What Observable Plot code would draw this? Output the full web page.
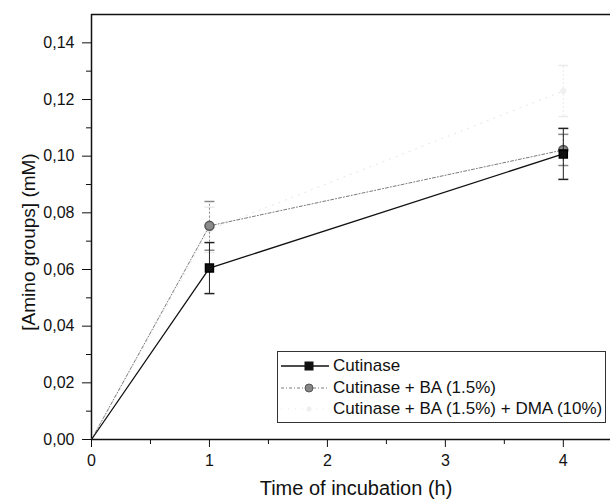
<!DOCTYPE html>
<html><head><meta charset="utf-8">
<script src="https://cdn.jsdelivr.net/npm/d3@7"></script>
<script src="https://cdn.jsdelivr.net/npm/@observablehq/plot@0.6"></script>
<style>
body{margin:0;background:#fff;font-family:"Liberation Sans",Arial,sans-serif;}
#wrap{position:relative;width:610px;height:503px;}
#legend{position:absolute;left:277px;top:351px;width:329px;height:72px;border:1px solid #333;background:#fff;font-size:17px;color:#111;box-sizing:border-box;}
#legend .row{position:absolute;left:0;height:20px;display:flex;align-items:center;}
#legend svg{display:block}
</style></head>
<body><div id="wrap"></div>
<script>
const times = [0, 1, 4];
const seriesNames = ["Cutinase", "Cutinase + BA (1.5%)", "Cutinase + BA (1.5%) + DMA (10%)"];
const cutinase = [0, 0.0605, 0.1008];
const cutinaseErr = [0, 0.009, 0.009];
const ba = [0, 0.0754, 0.1022];
const baErr = [0, 0.0086, 0.0055];
const dma = [0, 0.074, 0.123];
const dmaErr = [0, 0.008, 0.009];
const xTicks = [0, 1, 2, 3, 4];
const xMinor = [0.5, 1.5, 2.5, 3.5];
const yTicks = [0, 0.02, 0.04, 0.06, 0.08, 0.10, 0.12, 0.14];
const yMinor = [0.01, 0.03, 0.05, 0.07, 0.09, 0.11, 0.13];

const styles = [
  {stroke: "#111", dash: null, width: 1.3, errStroke: "#222"},
  {stroke: "#7a7a7a", dash: "3,2,1,2", width: 1, errStroke: "#888"},
  {stroke: "#e4e4e4", dash: "1,6", width: 1, errStroke: "#ebebeb"}
];
const vals = [cutinase, ba, dma];
const errs = [cutinaseErr, baErr, dmaErr];
const data = [];
vals.forEach((v, s) => times.forEach((t, i) => data.push({series: s, x: t, y: v[i], e: errs[s][i]})));

const cap = {draw(ctx, size) { ctx.moveTo(-5, 0); ctx.lineTo(5, 0); }};
const fmt = d => d.toFixed(2).replace(".", ",");

const marks = [
  Plot.ruleY([0], {stroke: "#111", strokeWidth: 1.5}),
  Plot.ruleY([0.15], {stroke: "#111", strokeWidth: 1.5}),
  Plot.ruleX([0], {stroke: "#111", strokeWidth: 1.5}),
  Plot.axisY({ticks: yTicks, tickSize: 9, tickPadding: 8, tickFormat: fmt, fontSize: 16, label: null}),
  Plot.axisY({ticks: yMinor, tickSize: 5, tickFormat: () => "", label: null}),
  Plot.axisX({ticks: xTicks, tickSize: 8, tickPadding: 7, tickFormat: d => String(d), fontSize: 16, label: null}),
  Plot.axisX({ticks: xMinor, tickSize: 5, tickFormat: () => "", label: null}),
  Plot.text(["[Amino groups] (mM)"], {frameAnchor: "left", textAnchor: "middle", rotate: -90, dx: -63, dy: 15, fontSize: 19, fill: "#111"}),
  Plot.text(["Time of incubation (h)"], {frameAnchor: "bottom", dy: 55, dx: 5, fontSize: 20, fill: "#111"})
];
[2, 1, 0].forEach(s => {
  const st = styles[s];
  const d = data.filter(r => r.series === s);
  const de = d.filter(r => r.x > 0);
  marks.push(Plot.line(d, {x: "x", y: "y", stroke: st.stroke, strokeWidth: st.width, strokeDasharray: st.dash}));
  marks.push(Plot.ruleX(de, {x: "x", y1: r => r.y - r.e, y2: r => r.y + r.e, stroke: st.errStroke, strokeWidth: 1, strokeDasharray: s === 0 ? null : "2,2"}));
  marks.push(Plot.dot(de, {x: "x", y: r => r.y + r.e, symbol: cap, stroke: st.errStroke, strokeWidth: 1.5}));
  marks.push(Plot.dot(de, {x: "x", y: r => r.y - r.e, symbol: cap, stroke: st.errStroke, strokeWidth: 1.5}));
  if (s === 0) marks.push(Plot.dot(de, {x: "x", y: "y", symbol: "square", r: 4.5, fill: "#111", stroke: "#000"}));
  if (s === 1) marks.push(Plot.dot(de, {x: "x", y: "y", symbol: "circle", r: 4.5, fill: "#8a8a8a", stroke: "#555"}));
  if (s === 2) marks.push(Plot.dot(de, {x: "x", y: "y", symbol: "circle", r: 3, fill: "#f0f0f0", stroke: "none"}));
});

const chart = Plot.plot({
  width: 610, height: 503,
  marginLeft: 91, marginTop: 14, marginBottom: 64, marginRight: 0,
  style: {fontFamily: "'Liberation Sans', Arial, sans-serif", color: "#111", background: "#fff"},
  x: {domain: [0, 4.4]},
  y: {domain: [0, 0.15]},
  marks
});
chart.style.position = "absolute";
chart.style.left = "0"; chart.style.top = "0";
const wrap = document.getElementById("wrap");
wrap.appendChild(chart);

const legend = document.createElement("div");
legend.id = "legend";
const rowTops = [4, 26, 47];
seriesNames.forEach((name, s) => {
  const st = styles[s];
  const row = document.createElement("div");
  row.className = "row";
  row.style.top = rowTops[s] + "px";
  const ns = "http://www.w3.org/2000/svg";
  const svg = document.createElementNS(ns, "svg");
  svg.setAttribute("width", 55); svg.setAttribute("height", 20);
  const ln = document.createElementNS(ns, "line");
  ln.setAttribute("x1", 3); ln.setAttribute("x2", 51); ln.setAttribute("y1", 10); ln.setAttribute("y2", 10);
  ln.setAttribute("stroke", st.stroke); ln.setAttribute("stroke-width", st.width);
  if (st.dash) ln.setAttribute("stroke-dasharray", st.dash);
  svg.appendChild(ln);
  let m;
  if (s === 0) { m = document.createElementNS(ns, "rect"); m.setAttribute("x", 26.5); m.setAttribute("y", 5.5); m.setAttribute("width", 9); m.setAttribute("height", 9); m.setAttribute("fill", "#111"); }
  else if (s === 1) { m = document.createElementNS(ns, "circle"); m.setAttribute("cx", 31); m.setAttribute("cy", 10); m.setAttribute("r", 4); m.setAttribute("fill", "#888"); m.setAttribute("stroke", "#555"); }
  else { m = document.createElementNS(ns, "circle"); m.setAttribute("cx", 31); m.setAttribute("cy", 10); m.setAttribute("r", 2.5); m.setAttribute("fill", "#eee"); }
  svg.appendChild(m);
  row.appendChild(svg);
  const span = document.createElement("span");
  span.textContent = name;
  row.appendChild(span);
  legend.appendChild(row);
});
wrap.appendChild(legend);
</script></body></html>
